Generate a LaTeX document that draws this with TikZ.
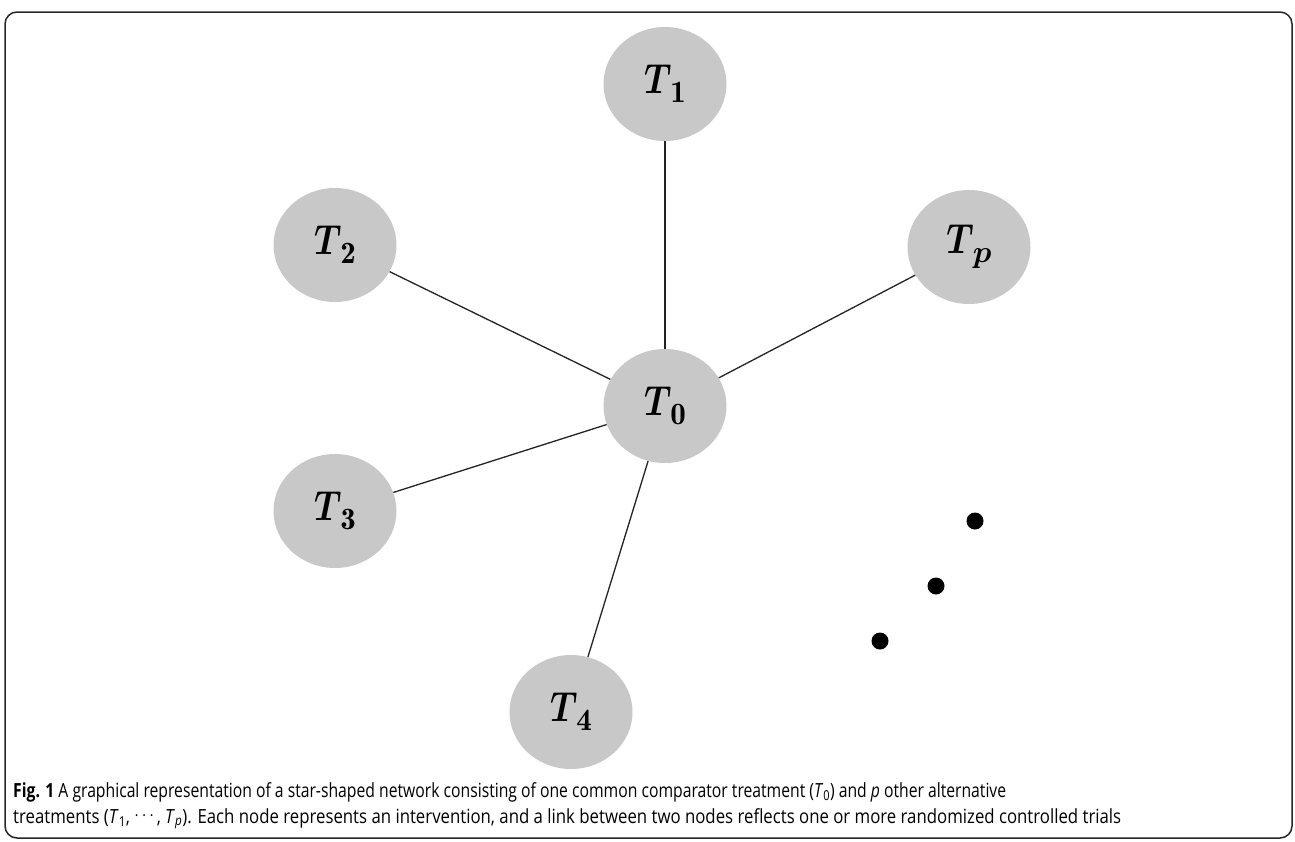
\documentclass[tikz,border=0pt]{standalone}
\usepackage{fix-cm}
\usepackage{amsmath,bm,graphicx}
\usepackage{fontspec}
\newfontfamily\capfont{Open Sans}
\usetikzlibrary{shapes.geometric}
\definecolor{nodegray}{RGB}{200,200,200}
\definecolor{linegray}{RGB}{35,35,35}
\newcommand{\tlabel}[1]{\scalebox{0.82}[1]{$\bm{T}$}\kern-1pt\raisebox{-9pt}{\fontsize{31}{31}\selectfont$#1$}}
\tikzset{
  tnode/.style={ellipse, fill=nodegray, minimum width=123pt, minimum height=114pt, inner sep=0pt, font=\fontsize{42}{46}\selectfont},
  link/.style={draw=linegray, line width=1.3pt},
  dotmark/.style={circle, fill=black, minimum size=17pt, inner sep=0pt},
  captext/.style={anchor=base west, inner sep=0pt, font=\capfont\fontsize{19.5}{23}\selectfont}
}
\begin{document}
\begin{tikzpicture}[x=1pt,y=-1pt]
\useasboundingbox (0,0) rectangle (1295,841);
\draw[line width=1.5pt, rounded corners=12pt, draw=black!85] (5,12) rectangle (1292,838);
\node[tnode] (t0) at (665,406) {\tlabel{\mathbf{0}}};
\node[tnode] (t1) at (665,84) {\tlabel{\mathbf{1}}};
\node[tnode] (t2) at (335,245) {\tlabel{\mathbf{2}}};
\node[tnode] (tp) at (969,247) {\tlabel{\bm{p}}};
\node[tnode] (t3) at (335,511) {\tlabel{\mathbf{3}}};
\node[tnode] (t4) at (571,712) {\tlabel{\mathbf{4}}};
\draw[link] (t0) -- (t1);
\draw[link] (t0) -- (t2);
\draw[link] (t0) -- (tp);
\draw[link] (t0) -- (t3);
\draw[link] (t0) -- (t4);
\node[dotmark] (d1) at (975,521) {};
\node[dotmark] (d2) at (936,586) {};
\node[dotmark] (d3) at (880,641) {};
\node[captext] (cap1) at (13,797) {\resizebox{993pt}{\height}{\textbf{Fig. 1} A graphical representation of a star-shaped network consisting of one common comparator treatment (\textit{T}\textsubscript{0}) and \textit{p} other alternative}};
\node[captext] (cap2) at (13,823) {\resizebox{1108pt}{\height}{treatments (\textit{T}\textsubscript{1}, \raisebox{0.25ex}{$\cdots$}, \textit{T}\textsubscript{\textit{p}}). Each node represents an intervention, and a link between two nodes reflects one or more randomized controlled trials}};
\end{tikzpicture}
\end{document}
